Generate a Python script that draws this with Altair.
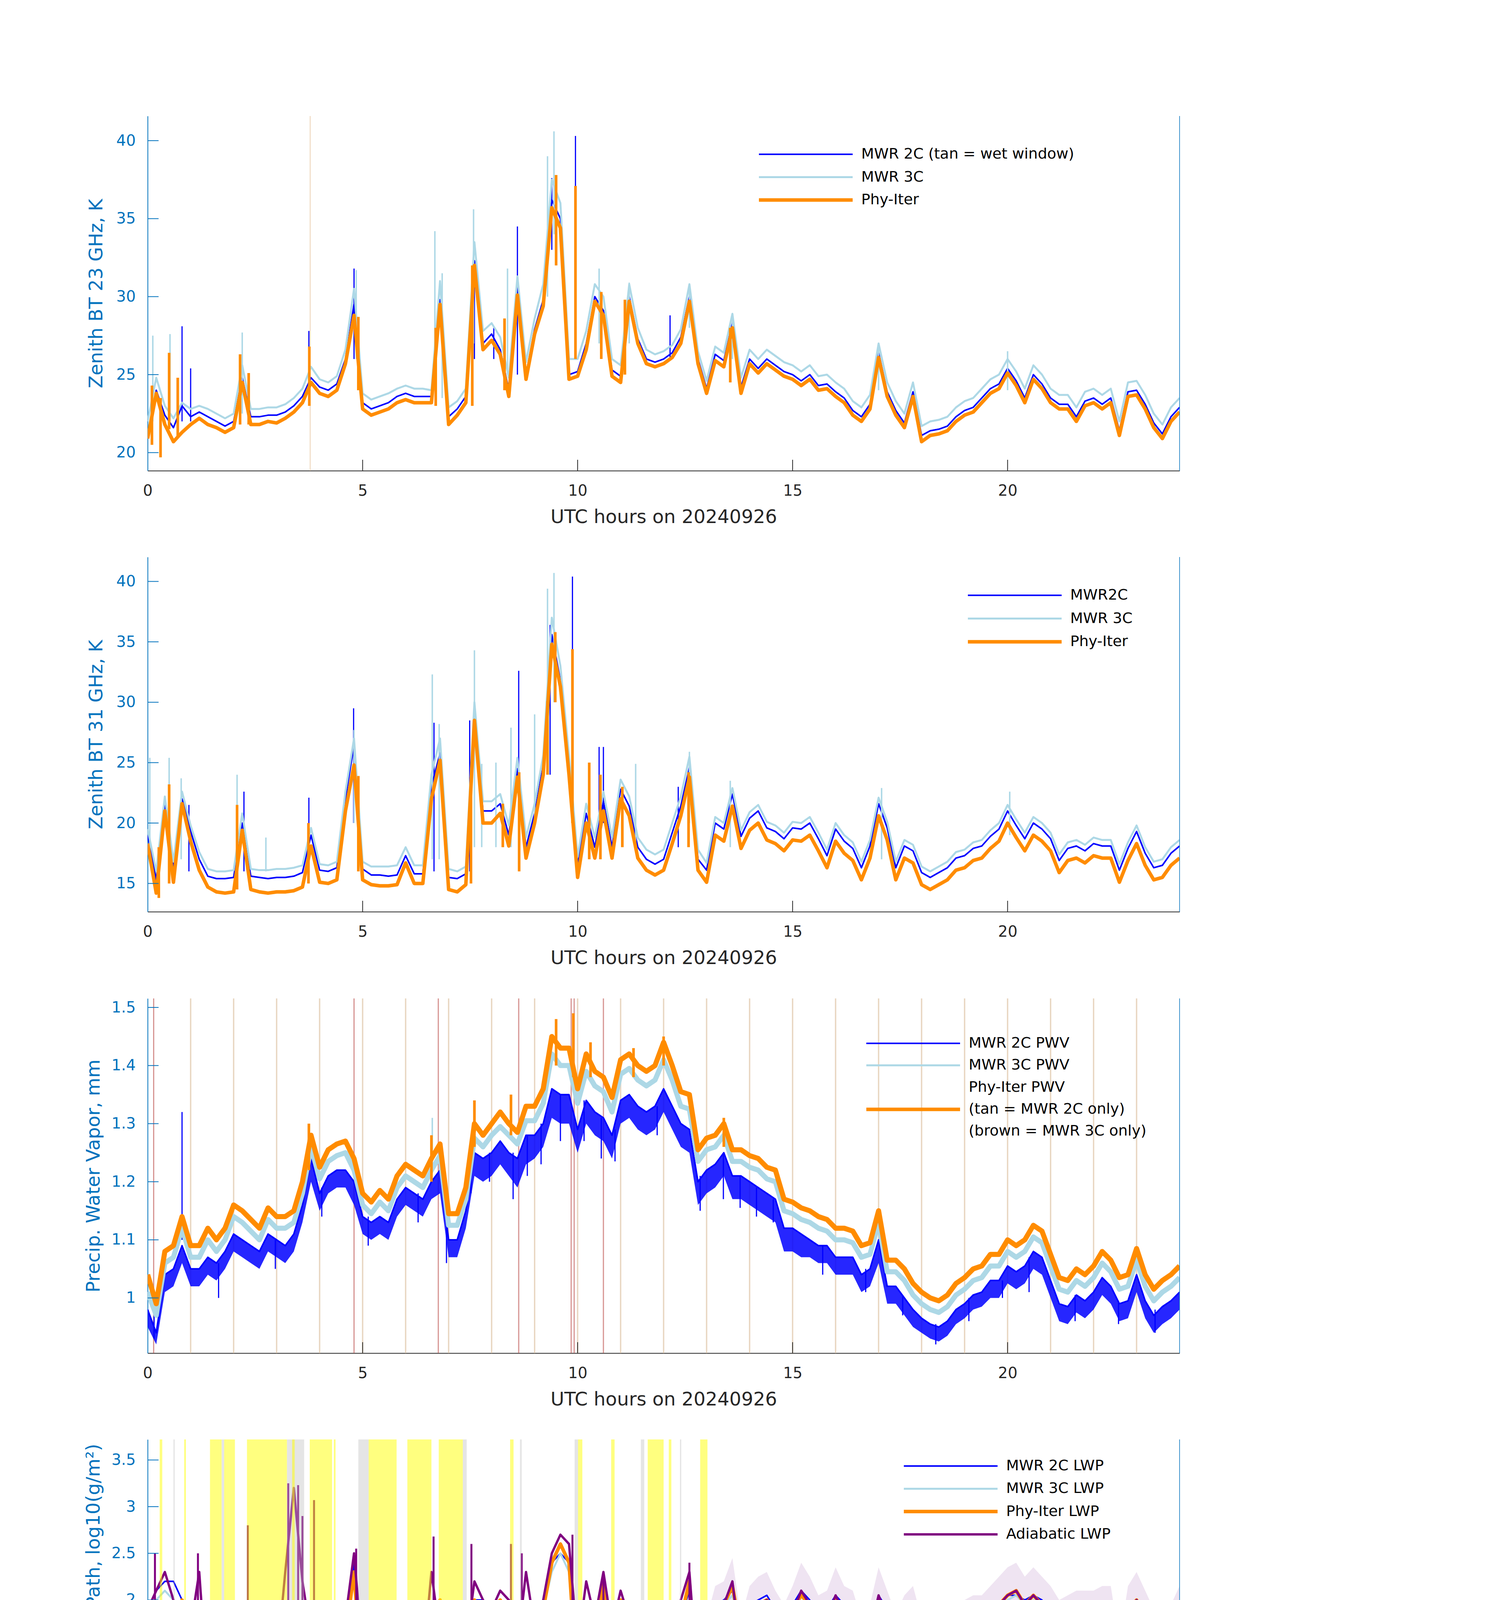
import altair as alt
import pandas as pd

W, H = 2642, 908
FONT = "DejaVu Sans"
AXIS_BLUE = "#0072BD"
DARK = "#262626"
BLUE, LBLUE, ORANGE, PURPLE = "#0000FF", "#ADD8E6", "#FF8C00", "#800080"
WB, WL, WO, WP = 4, 5, 9, 6

X_TICKS = [0, 5, 10, 15, 20]
X_TITLE = "UTC hours on 20240926"

HOURS = [
    0.0, 0.2, 0.4, 0.6, 0.8, 1.0, 1.2, 1.4, 1.6, 1.8,
    2.0, 2.2, 2.4, 2.6, 2.8, 3.0, 3.2, 3.4, 3.6, 3.8,
    4.0, 4.2, 4.4, 4.6, 4.8, 5.0, 5.2, 5.4, 5.6, 5.8,
    6.0, 6.2, 6.4, 6.6, 6.8, 7.0, 7.2, 7.4, 7.6, 7.8,
    8.0, 8.2, 8.4, 8.6, 8.8, 9.0, 9.2, 9.4, 9.6, 9.8,
    10.0, 10.2, 10.4, 10.6, 10.8, 11.0, 11.2, 11.4, 11.6, 11.8,
    12.0, 12.2, 12.4, 12.6, 12.8, 13.0, 13.2, 13.4, 13.6, 13.8,
    14.0, 14.2, 14.4, 14.6, 14.8, 15.0, 15.2, 15.4, 15.6, 15.8,
    16.0, 16.2, 16.4, 16.6, 16.8, 17.0, 17.2, 17.4, 17.6, 17.8,
    18.0, 18.2, 18.4, 18.6, 18.8, 19.0, 19.2, 19.4, 19.6, 19.8,
    20.0, 20.2, 20.4, 20.6, 20.8, 21.0, 21.2, 21.4, 21.6, 21.8,
    22.0, 22.2, 22.4, 22.6, 22.8, 23.0, 23.2, 23.4, 23.6, 23.8,
    24.0,
]
HOURS_LATE = HOURS[65:]

# ---------------- Panel 1: 23 GHz ----------------
P1_PHY = [
    20.9, 23.8, 21.8, 20.7, 21.3, 21.8, 22.2, 21.8, 21.6, 21.3,
    21.6, 24.5, 21.8, 21.8, 22.0, 21.9, 22.2, 22.6, 23.2, 24.5,
    23.8, 23.6, 24.0, 25.7, 28.8, 22.8, 22.4, 22.6, 22.8, 23.2,
    23.4, 23.2, 23.2, 23.2, 29.5, 21.8, 22.4, 23.2, 32.0, 26.6,
    27.2, 26.3, 23.6, 30.1, 24.7, 27.6, 29.4, 35.7, 34.4, 24.7,
    24.9, 26.6, 29.7, 28.8, 24.9, 24.5, 29.7, 27.0, 25.7, 25.5,
    25.7, 26.1, 27.0, 29.7, 25.7, 23.8, 25.9, 25.5, 28.0, 23.8,
    25.7, 25.1, 25.7, 25.3, 24.9, 24.7, 24.3, 24.7, 24.0, 24.1,
    23.6, 23.2, 22.4, 22.0, 22.8, 26.1, 23.6, 22.4, 21.6, 23.6,
    20.7, 21.1, 21.2, 21.4, 22.0, 22.4, 22.6, 23.2, 23.8, 24.1,
    25.1, 24.3, 23.2, 24.7, 24.1, 23.2, 22.8, 22.8, 22.0, 23.0,
    23.2, 22.8, 23.2, 21.1, 23.6, 23.7, 22.8, 21.6, 20.9, 22.0,
    22.6,
]
P1_MWR2C = [
    21.0, 24.0, 22.4, 21.6, 23.0, 22.3, 22.6, 22.3, 22.0, 21.7,
    22.0, 24.8, 22.3, 22.3, 22.4, 22.4, 22.6, 23.0, 23.6, 24.8,
    24.2, 24.0, 24.4, 26.0, 29.5, 23.2, 22.8, 23.0, 23.2, 23.6,
    23.8, 23.6, 23.6, 23.6, 29.8, 22.3, 22.8, 23.6, 32.3, 27.0,
    27.6, 26.6, 24.0, 30.5, 25.0, 27.9, 29.8, 36.2, 35.0, 25.0,
    25.2, 27.0, 30.0, 29.1, 25.3, 24.9, 30.0, 27.3, 26.0, 25.8,
    26.0, 26.4, 27.4, 30.0, 26.0, 24.1, 26.3, 25.9, 28.3, 24.2,
    26.0, 25.4, 26.0, 25.6, 25.2, 25.0, 24.6, 25.0, 24.3, 24.4,
    23.9, 23.5, 22.7, 22.3, 23.1, 26.4, 23.9, 22.7, 21.9, 23.9,
    21.1, 21.4, 21.5, 21.7, 22.3, 22.7, 22.9, 23.5, 24.1, 24.4,
    25.4, 24.6, 23.5, 25.0, 24.4, 23.5, 23.1, 23.1, 22.3, 23.3,
    23.5, 23.1, 23.5, 21.4, 23.9, 24.0, 23.1, 21.9, 21.2, 22.3,
    22.9,
]
P1_MWR3C = [
    22.0, 24.8, 23.0, 22.2, 23.2, 22.8, 23.0, 22.8, 22.5, 22.2,
    22.5, 25.6, 22.8, 22.8, 22.9, 22.9, 23.1, 23.5, 24.1, 25.5,
    24.7, 24.5, 24.9, 26.6, 30.5, 23.8, 23.4, 23.6, 23.8, 24.1,
    24.3, 24.1, 24.1, 24.0, 31.0, 22.9, 23.3, 24.1, 33.5, 27.8,
    28.3, 27.4, 24.8, 31.3, 25.8, 28.6, 30.8, 37.5, 36.0, 26.0,
    26.0, 27.8, 30.8, 30.0, 26.0, 25.6, 30.8, 28.0, 26.6, 26.3,
    26.5, 26.9, 27.9, 30.8, 26.5, 24.6, 26.8, 26.4, 28.9, 24.8,
    26.6, 26.0, 26.6, 26.2, 25.8, 25.6, 25.2, 25.6, 24.9, 25.0,
    24.5, 24.1, 23.3, 22.9, 23.7, 27.0, 24.5, 23.3, 22.5, 24.5,
    21.7, 22.0, 22.1, 22.3, 22.9, 23.3, 23.5, 24.1, 24.7, 25.0,
    26.0, 25.2, 24.1, 25.6, 25.0, 24.1, 23.7, 23.7, 22.9, 23.9,
    24.1, 23.7, 24.1, 22.0, 24.5, 24.6, 23.7, 22.5, 21.8, 22.9,
    23.5,
]
P1_PHY_SPK_T = [0.1, 0.3, 0.5, 0.7, 2.15, 2.35, 3.76, 4.9, 6.7, 7.55, 8.3, 9.5, 9.95, 10.55, 11.1, 13.55]
P1_PHY_SPK_LO = [20.5, 19.7, 21.5, 21.0, 21.8, 21.8, 23.0, 24.0, 23.0, 23.0, 24.0, 32.0, 26.0, 26.0, 25.0, 24.5]
P1_PHY_SPK_HI = [24.3, 23.5, 26.4, 24.8, 26.3, 25.1, 26.8, 28.7, 28.0, 32.0, 28.6, 37.8, 37.1, 30.3, 29.8, 28.0]
P1_2C_SPK_T = [0.8, 1.0, 3.75, 4.8, 7.6, 8.05, 8.6, 9.4, 9.95, 12.15]
P1_2C_SPK_LO = [22.0, 22.0, 24.0, 26.0, 26.0, 26.0, 25.0, 33.0, 27.0, 26.0]
P1_2C_SPK_HI = [28.1, 25.4, 27.8, 31.8, 31.6, 28.0, 34.5, 37.6, 40.3, 28.8]
P1_3C_SPK_T = [0.12, 0.52, 2.2, 4.85, 6.68, 6.85, 7.58, 8.37, 9.3, 9.45, 10.5, 11.2, 12.6, 13.6, 17.0, 20.0]
P1_3C_SPK_LO = [22.0, 22.0, 22.5, 26.0, 24.0, 23.5, 27.0, 25.0, 30.0, 34.0, 27.0, 27.0, 28.0, 26.0, 24.0, 24.0]
P1_3C_SPK_HI = [27.5, 27.6, 27.7, 31.7, 34.2, 31.5, 35.6, 31.8, 39.0, 40.6, 31.8, 30.9, 30.8, 28.9, 27.0, 26.5]
P1_WET_T = [3.78]

# ---------------- Panel 2: 31 GHz ----------------
P2_PHY = [
    18.3, 14.2, 21.0, 15.1, 21.6, 18.5, 16.1, 14.7, 14.3, 14.2,
    14.3, 19.4, 14.5, 14.3, 14.2, 14.3, 14.3, 14.4, 14.7, 18.1,
    15.1, 15.0, 15.3, 21.0, 24.8, 15.3, 14.9, 14.8, 14.8, 14.9,
    16.7, 15.0, 15.0, 22.0, 25.2, 14.5, 14.3, 14.9, 28.5, 20.0,
    20.0, 20.8, 18.1, 23.8, 17.1, 20.0, 24.0, 34.8, 31.3, 24.0,
    15.5, 20.0, 17.1, 21.0, 17.1, 22.0, 20.6, 17.1, 16.1, 15.7,
    16.1, 18.3, 20.6, 23.8, 16.1, 15.1, 19.0, 18.5, 21.4, 17.9,
    19.4, 20.0, 18.6, 18.3, 17.7, 18.6, 18.5, 19.0, 17.7, 16.3,
    18.5, 17.5, 16.9, 15.3, 17.1, 20.6, 18.6, 15.3, 17.1, 16.7,
    14.9, 14.5, 14.9, 15.3, 16.1, 16.3, 16.9, 17.1, 17.9, 18.5,
    20.0, 18.8, 17.7, 19.0, 18.5, 17.7, 15.9, 16.9, 17.1, 16.7,
    17.3, 17.1, 17.1, 15.1, 16.9, 18.3, 16.5, 15.3, 15.5, 16.5,
    17.1,
]
P2_MWR2C = [
    19.0, 15.3, 21.6, 16.2, 22.0, 19.3, 17.0, 15.6, 15.4, 15.4,
    15.5, 20.0, 15.6, 15.5, 15.4, 15.5, 15.5, 15.6, 15.9, 19.0,
    16.1, 16.0, 16.3, 22.0, 26.5, 16.2, 15.7, 15.7, 15.6, 15.7,
    17.3, 15.8, 15.8, 23.0, 25.8, 15.5, 15.4, 15.8, 28.5, 21.0,
    21.0, 21.6, 19.0, 24.5, 18.0, 20.8, 24.8, 35.6, 31.8, 24.8,
    16.5, 20.8, 18.0, 21.8, 18.0, 22.8, 21.4, 18.0, 17.0, 16.6,
    17.0, 19.2, 21.4, 24.6, 17.0, 16.1, 20.0, 19.5, 22.4, 18.9,
    20.4, 21.0, 19.6, 19.3, 18.7, 19.6, 19.5, 20.0, 18.7, 17.3,
    19.5, 18.5, 17.9, 16.3, 18.1, 21.6, 19.6, 16.3, 18.1, 17.7,
    15.9, 15.5, 15.9, 16.3, 17.1, 17.3, 17.9, 18.1, 18.9, 19.5,
    21.0, 19.8, 18.7, 20.0, 19.5, 18.7, 16.9, 17.9, 18.1, 17.7,
    18.3, 18.1, 18.1, 16.1, 17.9, 19.3, 17.5, 16.3, 16.5, 17.5,
    18.1,
]
P2_MWR3C = [
    19.5, 16.0, 22.2, 16.8, 22.6, 19.8, 17.6, 16.2, 16.0, 16.0,
    16.1, 20.8, 16.2, 16.1, 16.1, 16.2, 16.2, 16.3, 16.5, 19.6,
    16.6, 16.5, 16.8, 22.6, 27.0, 16.8, 16.4, 16.4, 16.4, 16.5,
    18.0, 16.5, 16.5, 24.0, 27.0, 16.2, 16.0, 16.4, 30.0, 21.8,
    21.8, 22.4, 19.8, 25.4, 18.8, 21.6, 25.6, 37.0, 33.0, 25.6,
    17.2, 21.6, 18.8, 22.6, 18.8, 23.6, 22.2, 18.8, 17.8, 17.4,
    17.8, 20.0, 22.2, 25.5, 17.8, 16.7, 20.5, 20.0, 22.9, 19.4,
    20.9, 21.5, 20.1, 19.8, 19.2, 20.1, 20.0, 20.5, 19.2, 17.8,
    20.0, 19.0, 18.4, 16.8, 18.6, 22.1, 20.1, 16.8, 18.6, 18.2,
    16.4, 16.0, 16.4, 16.8, 17.6, 17.8, 18.4, 18.6, 19.4, 20.0,
    21.5, 20.3, 19.2, 20.5, 20.0, 19.2, 17.4, 18.4, 18.6, 18.2,
    18.8, 18.6, 18.6, 16.6, 18.4, 19.8, 18.0, 16.8, 17.0, 18.0,
    18.6,
]
P2_PHY_SPK_T = [0.26, 0.5, 2.08, 3.74, 4.9, 7.52, 8.26, 8.64, 9.3, 9.48, 9.88, 10.27, 10.53, 11.04, 12.58]
P2_PHY_SPK_LO = [13.8, 15.0, 14.5, 15.0, 16.0, 15.0, 18.0, 16.0, 24.0, 30.0, 20.0, 17.0, 17.0, 18.0, 18.0]
P2_PHY_SPK_HI = [18.0, 23.2, 21.5, 20.0, 23.9, 23.8, 21.6, 24.2, 30.1, 35.8, 34.4, 25.0, 24.0, 23.0, 24.2]
P2_2C_SPK_T = [0.96, 2.24, 3.75, 4.79, 6.66, 7.49, 8.63, 9.36, 9.88, 10.5, 10.6, 12.34]
P2_2C_SPK_LO = [16.0, 16.0, 16.0, 20.0, 16.0, 16.0, 18.0, 24.0, 22.0, 20.0, 20.0, 18.0]
P2_2C_SPK_HI = [21.5, 22.6, 22.1, 29.5, 28.3, 28.5, 32.6, 36.4, 40.4, 26.3, 26.3, 23.0]
P2_3C_SPK_T = [0.05, 0.5, 0.78, 2.08, 2.75, 4.8, 6.62, 6.78, 7.6, 7.77, 8.1, 8.45, 9.0, 9.3, 9.45, 11.35, 12.6, 13.55, 17.07, 20.05]
P2_3C_SPK_LO = [17.0, 17.0, 17.0, 17.0, 16.0, 20.0, 17.0, 17.0, 18.0, 18.0, 18.0, 18.0, 20.0, 28.0, 30.0, 18.0, 20.0, 18.0, 17.0, 19.0]
P2_3C_SPK_HI = [25.4, 25.4, 23.7, 24.0, 18.8, 27.7, 32.3, 28.2, 34.3, 24.9, 25.0, 27.9, 29.0, 39.4, 40.7, 24.9, 25.9, 23.5, 22.9, 22.6]

# ---------------- Panel 3: PWV ----------------
P3_PHY = [
    1.04, 0.99, 1.08, 1.09, 1.14, 1.09, 1.09, 1.12, 1.10, 1.12,
    1.16, 1.15, 1.135, 1.12, 1.155, 1.14, 1.14, 1.15, 1.20, 1.28,
    1.225, 1.255, 1.265, 1.27, 1.24, 1.18, 1.165, 1.185, 1.17, 1.21,
    1.23, 1.22, 1.21, 1.24, 1.265, 1.145, 1.145, 1.19, 1.30, 1.28,
    1.30, 1.32, 1.30, 1.285, 1.33, 1.33, 1.36, 1.45, 1.43, 1.43,
    1.36, 1.42, 1.39, 1.38, 1.345, 1.41, 1.42, 1.40, 1.39, 1.40,
    1.44, 1.40, 1.355, 1.35, 1.255, 1.275, 1.28, 1.30, 1.255, 1.255,
    1.245, 1.24, 1.225, 1.22, 1.17, 1.165, 1.155, 1.15, 1.14, 1.135,
    1.12, 1.12, 1.115, 1.09, 1.095, 1.15, 1.065, 1.065, 1.05, 1.025,
    1.01, 1.00, 0.995, 1.005, 1.025, 1.035, 1.05, 1.055, 1.075, 1.075,
    1.10, 1.09, 1.10, 1.125, 1.115, 1.075, 1.035, 1.03, 1.05, 1.04,
    1.055, 1.08, 1.065, 1.035, 1.04, 1.085, 1.04, 1.015, 1.03, 1.04,
    1.055,
]
P3_MWR2C = [
    0.98, 0.94, 1.04, 1.05, 1.09, 1.05, 1.05, 1.07, 1.06, 1.08,
    1.11, 1.10, 1.09, 1.08, 1.11, 1.10, 1.09, 1.11, 1.16, 1.24,
    1.18, 1.21, 1.22, 1.22, 1.20, 1.14, 1.13, 1.14, 1.13, 1.17,
    1.19, 1.18, 1.17, 1.20, 1.22, 1.10, 1.10, 1.15, 1.25, 1.24,
    1.25, 1.27, 1.25, 1.24, 1.28, 1.28, 1.30, 1.36, 1.35, 1.35,
    1.29, 1.34, 1.32, 1.31, 1.28, 1.34, 1.35, 1.33, 1.32, 1.33,
    1.36, 1.33, 1.30, 1.29, 1.20, 1.22, 1.23, 1.25, 1.21, 1.21,
    1.20, 1.19, 1.18, 1.17, 1.12, 1.12, 1.11, 1.10, 1.09, 1.09,
    1.07, 1.07, 1.07, 1.04, 1.05, 1.10, 1.02, 1.02, 1.00, 0.98,
    0.965, 0.955, 0.95, 0.96, 0.98, 0.99, 1.005, 1.01, 1.03, 1.03,
    1.055, 1.045, 1.055, 1.08, 1.07, 1.03, 0.99, 0.985, 1.005, 0.995,
    1.01, 1.035, 1.02, 0.99, 0.995, 1.04, 0.995, 0.97, 0.985, 0.995,
    1.01,
]
# lower edge of the MWR 2C noise band
P3_MWR2C_LOW = [
    0.95, 0.92, 1.01, 1.02, 1.06, 1.02, 1.02, 1.04, 1.03, 1.05,
    1.08, 1.07, 1.06, 1.05, 1.08, 1.07, 1.06, 1.08, 1.13, 1.20,
    1.15, 1.18, 1.19, 1.19, 1.16, 1.11, 1.10, 1.11, 1.10, 1.14,
    1.16, 1.15, 1.14, 1.17, 1.18, 1.07, 1.07, 1.12, 1.21, 1.20,
    1.21, 1.23, 1.21, 1.19, 1.23, 1.24, 1.26, 1.31, 1.30, 1.30,
    1.25, 1.30, 1.28, 1.27, 1.24, 1.30, 1.31, 1.29, 1.28, 1.29,
    1.32, 1.29, 1.26, 1.25, 1.16, 1.18, 1.19, 1.21, 1.17, 1.17,
    1.16, 1.15, 1.14, 1.13, 1.08, 1.08, 1.07, 1.07, 1.06, 1.06,
    1.04, 1.04, 1.04, 1.01, 1.02, 1.06, 0.99, 0.99, 0.97, 0.95,
    0.94, 0.93, 0.925, 0.935, 0.955, 0.965, 0.98, 0.985, 1.0, 1.0,
    1.025, 1.015, 1.025, 1.05, 1.04, 1.0, 0.96, 0.955, 0.975, 0.965,
    0.98, 1.005, 0.99, 0.96, 0.965, 1.01, 0.965, 0.94, 0.955, 0.965,
    0.98,
]
P3_MWR3C = [
    1.01, 0.97, 1.06, 1.07, 1.12, 1.07, 1.07, 1.10, 1.08, 1.10,
    1.14, 1.13, 1.115, 1.10, 1.135, 1.12, 1.12, 1.13, 1.18, 1.26,
    1.205, 1.235, 1.245, 1.25, 1.22, 1.16, 1.145, 1.165, 1.15, 1.19,
    1.21, 1.20, 1.19, 1.22, 1.245, 1.125, 1.125, 1.17, 1.275, 1.26,
    1.28, 1.295, 1.28, 1.265, 1.305, 1.305, 1.335, 1.42, 1.40, 1.40,
    1.335, 1.39, 1.365, 1.355, 1.32, 1.385, 1.395, 1.375, 1.365, 1.375,
    1.41, 1.375, 1.33, 1.325, 1.235, 1.255, 1.26, 1.28, 1.235, 1.235,
    1.225, 1.22, 1.205, 1.20, 1.15, 1.145, 1.135, 1.13, 1.12, 1.115,
    1.10, 1.10, 1.095, 1.07, 1.075, 1.13, 1.045, 1.045, 1.03, 1.005,
    0.99, 0.98, 0.975, 0.985, 1.005, 1.015, 1.03, 1.035, 1.055, 1.055,
    1.08, 1.07, 1.08, 1.105, 1.095, 1.055, 1.015, 1.01, 1.03, 1.02,
    1.035, 1.06, 1.045, 1.015, 1.02, 1.065, 1.02, 0.995, 1.01, 1.02,
    1.035,
]
P3_2C_SPK_T = [0.15, 0.8, 1.65, 2.97, 4.05, 5.13, 6.29, 6.95, 7.52, 7.95, 8.5, 8.83, 9.15, 9.6,
               10.15, 10.55, 10.87, 11.85, 12.85, 13.39, 13.78, 14.16, 14.55, 15.7, 16.7, 17.56,
               18.33, 19.1, 19.88, 20.5, 21.57, 22.58, 23.43]
P3_2C_SPK_LO = [0.93, 1.10, 1.0, 1.05, 1.14, 1.09, 1.13, 1.06, 1.18, 1.20, 1.17, 1.21, 1.23, 1.27,
                1.27, 1.24, 1.235, 1.28, 1.15, 1.17, 1.155, 1.14, 1.13, 1.04, 1.01, 0.97,
                0.92, 0.96, 1.0, 1.01, 0.96, 0.955, 0.94]
P3_2C_SPK_HI = [0.98, 1.32, 1.06, 1.10, 1.19, 1.14, 1.18, 1.12, 1.24, 1.25, 1.25, 1.28, 1.30, 1.35,
                1.34, 1.31, 1.29, 1.33, 1.21, 1.25, 1.21, 1.19, 1.17, 1.09, 1.05, 1.005,
                0.955, 1.0, 1.03, 1.07, 1.005, 0.995, 0.98]
P3_3C_SPK_T = [6.62]
P3_3C_SPK_LO = [1.22]
P3_3C_SPK_HI = [1.31]
P3_PHY_SPK_T = [3.75, 6.6, 7.6, 8.45, 9.5, 9.9, 10.3, 11.3, 12.0, 13.4]
P3_PHY_SPK_LO = [1.22, 1.20, 1.26, 1.28, 1.40, 1.38, 1.38, 1.38, 1.40, 1.26]
P3_PHY_SPK_HI = [1.30, 1.28, 1.34, 1.35, 1.48, 1.49, 1.44, 1.43, 1.45, 1.31]
P3_TAN_T = [1, 2, 3, 4, 5, 6, 7, 8, 9, 10, 11, 12, 13, 14, 15, 16, 17, 18, 19, 20, 21, 22, 23]
P3_BROWN_T = [0.14, 4.8, 6.76, 8.63, 9.85, 9.92, 10.6]

# ---------------- Panel 4: LWP ----------------
P4_PHY = [
    1.8, 1.9, 1.4, 1.7, 2.0, 1.6, 1.2, 0.8, 0.3, 0.5,
    0.9, 1.6, 0.8, 0.9, 0.6, 0.9, 0.7, 0.6, 0.8, 0.9,
    0.9, 1.0, 0.7, 1.6, 2.3, 1.0, 0.5, 0.6, 0.9, 1.0,
    1.1, 0.9, 0.7, 1.6, 2.0, 1.2, 0.9, 1.3, 2.0, 1.8,
    1.9, 2.0, 1.8, 1.2, 1.6, 1.5, 1.9, 2.4, 2.6, 2.4,
    1.0, 1.6, 1.4, 2.2, 1.5, 2.0, 1.6, 1.3, 0.9, 0.7,
    1.0, 1.3, 1.8, 2.2, 0.7, 1.5, 1.9, 1.95, 2.15, 1.65,
    1.9, 1.95, 2.0, 1.85, 1.05, 1.9, 2.05, 1.95, 1.8, 1.85,
    2.0, 1.9, 1.8, 1.2, 1.6, 2.0, 1.85, 1.3, 1.7, 1.85,
    1.3, 1.0, 1.3, 1.0, 1.5, 1.7, 1.8, 1.75, 1.9, 1.95,
    2.05, 2.1, 1.95, 2.05, 1.95, 1.85, 1.75, 1.8, 1.85, 1.8,
    1.85, 1.9, 1.85, 1.6, 1.9, 2.0, 1.8, 1.5, 1.25, 1.55,
    1.85,
]
P4_ADI = [
    1.9, 2.1, 2.3, 2.0, 1.6, 1.7, 2.3, 1.0, 0.9, 1.0,
    1.6, 1.2, 1.0, 1.1, 1.2, 1.3, 2.3, 3.2, 2.2, 1.6,
    1.5, 1.8, 1.2, 1.8, 2.5, 1.4, 1.3, 1.1, 1.2, 1.2,
    1.3, 1.2, 1.3, 2.3, 1.6, 1.3, 1.2, 1.5, 2.2, 2.0,
    1.9, 2.1, 2.0, 1.5, 2.3, 1.7, 2.0, 2.5, 2.7, 2.6,
    1.5, 2.2, 1.8, 2.3, 1.7, 2.1, 1.8, 1.6, 1.2, 1.1,
    1.3, 1.6, 2.0, 2.3, 1.1, 1.6, 1.9, 1.95, 2.2, 1.45,
    1.85, 1.95, 2.0, 1.8, 1.6, 1.85, 2.1, 1.95, 1.75, 1.8,
    2.05, 1.85, 1.8, 1.45, 1.65, 2.05, 1.8, 1.5, 1.75, 1.85,
    1.4, 1.3, 1.45, 1.3, 1.55, 1.7, 1.75, 1.75, 1.85, 1.95,
    2.05, 2.1, 1.95, 2.05, 1.95, 1.85, 1.7, 1.75, 1.8, 1.8,
    1.8, 1.85, 1.85, 1.2, 1.85, 2.0, 1.8, 1.55, 1.3, 1.6,
    1.85,
]
P4_MWR2C = [
    1.9, 2.1, 2.2, 2.2, 2.0, 1.9, 1.6, 1.25, 1.3, 1.25,
    1.3, 1.5, 1.2, 1.25, 1.25, 1.2, 1.25, 1.15, 1.2, 1.3,
    1.2, 1.25, 1.2, 1.6, 2.4, 1.3, 1.2, 1.1, 1.2, 1.25,
    1.2, 1.25, 1.2, 1.3, 1.2, 1.15, 1.2, 1.25, 2.0, 2.0,
    1.9, 2.0, 1.9, 1.3, 1.7, 1.6, 1.9, 2.4, 2.5, 2.4,
    1.3, 1.8, 1.6, 2.1, 1.6, 2.0, 1.7, 1.5, 1.3, 1.3,
    1.35, 1.4, 1.8, 2.1, 1.3, 1.6, 1.95, 2.0, 2.1, 1.75,
    1.95, 2.0, 2.05, 1.9, 1.75, 1.95, 2.1, 2.0, 1.85, 1.9,
    2.05, 1.95, 1.85, 1.6, 1.75, 2.05, 1.9, 1.6, 1.8, 1.9,
    1.55, 1.45, 1.6, 1.5, 1.65, 1.75, 1.85, 1.8, 1.9, 1.95,
    2.05, 2.05, 2.0, 2.05, 2.0, 1.9, 1.8, 1.85, 1.85, 1.85,
    1.85, 1.9, 1.9, 1.75, 1.9, 2.0, 1.85, 1.65, 1.5, 1.7,
    1.85,
]
P4_MWR3C = [
    1.85, 2.0, 2.1, 2.0, 1.9, 1.8, 1.5, 1.1, 1.0, 0.95,
    1.1, 1.4, 1.0, 1.0, 1.0, 1.0, 1.05, 0.95, 1.0, 1.1,
    1.0, 1.05, 1.0, 1.5, 2.3, 1.2, 1.1, 1.0, 1.05, 1.1,
    1.1, 1.1, 1.05, 1.1, 1.05, 1.0, 1.05, 1.1, 1.9, 1.9,
    1.85, 2.0, 1.85, 1.2, 1.6, 1.5, 1.9, 2.3, 2.5, 2.3,
    1.2, 1.7, 1.5, 2.0, 1.5, 1.9, 1.6, 1.4, 1.1, 1.05,
    1.1, 1.3, 1.7, 2.0, 1.1, 1.5, 1.9, 1.95, 2.05, 1.7,
    1.9, 1.95, 2.0, 1.85, 1.7, 1.9, 2.05, 1.95, 1.8, 1.85,
    2.0, 1.9, 1.8, 1.55, 1.7, 2.0, 1.85, 1.55, 1.75, 1.85,
    1.5, 1.4, 1.55, 1.45, 1.6, 1.7, 1.8, 1.75, 1.85, 1.9,
    2.0, 2.05, 1.95, 2.0, 1.95, 1.85, 1.75, 1.8, 1.8, 1.8,
    1.8, 1.85, 1.85, 1.7, 1.85, 1.95, 1.8, 1.6, 1.45, 1.65,
    1.8,
]
# adiabatic uncertainty envelope, 13 h onward
P4_ADI_LO = [
    1.3, 1.65, 1.7, 1.9, 1.1,
    1.55, 1.65, 1.7, 1.5, 1.2, 1.55, 1.8, 1.65, 1.45, 1.5,
    1.75, 1.55, 1.5, 1.1, 1.3, 1.75, 1.5, 1.15, 1.4, 1.55,
    1.0, 0.9, 1.05, 0.9, 1.2, 1.4, 1.45, 1.45, 1.55, 1.65,
    1.75, 1.8, 1.65, 1.75, 1.65, 1.55, 1.4, 1.45, 1.5, 1.5,
    1.5, 1.55, 1.55, 0.9, 1.55, 1.7, 1.5, 1.2, 0.95, 1.25,
    1.55,
]
P4_ADI_HI = [
    1.8, 2.15, 2.2, 2.45, 1.8,
    2.15, 2.25, 2.3, 2.1, 1.95, 2.15, 2.4, 2.25, 2.05, 2.1,
    2.35, 2.15, 2.1, 1.8, 1.95, 2.35, 2.1, 1.85, 2.05, 2.15,
    1.8, 1.7, 1.85, 1.7, 1.9, 2.0, 2.05, 2.05, 2.15, 2.25,
    2.35, 2.4, 2.25, 2.35, 2.25, 2.15, 2.0, 2.05, 2.1, 2.1,
    2.1, 2.15, 2.15, 1.55, 2.15, 2.3, 2.1, 1.9, 1.7, 1.95,
    2.15,
]
P4_DROP_T = [0.29, 0.57, 1.39, 1.81, 1.96, 2.04, 2.32, 2.5, 3.32, 3.63, 4.32, 4.97, 5.13,
             5.51, 5.9, 6.83, 7.4, 8.49, 8.72, 8.94, 10.02, 10.58, 10.84, 11.61, 12.25, 13.0]
P4_DROP_HI = [1.8, 1.6, 0.9, 0.6, 0.9, 1.0, 1.0, 0.9, 0.7, 0.8, 0.8, 1.2, 0.8,
              0.7, 1.0, 1.9, 1.3, 1.8, 1.4, 1.5, 1.3, 2.0, 1.5, 0.9, 1.2, 1.4]
P4_ADI_SPK_T = [0.17, 1.17, 2.33, 3.27, 3.5, 3.6, 3.87, 4.85, 6.65, 7.53, 8.45, 8.7, 9.88, 10.6, 12.6]
P4_ADI_SPK_LO = [1.6, 1.3, 1.0, 1.3, 1.3, 1.3, 1.3, 1.5, 1.3, 1.5, 1.5, 1.4, 1.5, 1.4, 1.4]
P4_ADI_SPK_HI = [2.5, 2.5, 2.8, 3.25, 3.23, 2.9, 3.07, 2.55, 2.68, 2.6, 2.6, 2.5, 2.7, 2.3, 2.4]
P4_YELLOW_START = [0.28, 0.85, 1.45, 1.78, 2.31, 3.36, 3.77, 4.33, 5.14, 6.04, 6.77, 8.43, 10.01, 10.78, 11.63, 12.12, 12.85]
P4_YELLOW_END = [0.34, 0.89, 1.72, 2.03, 3.24, 3.42, 4.29, 4.37, 5.79, 6.6, 7.33, 8.51, 10.11, 10.86, 12.0, 12.18, 13.02]
P4_GRAY_START = [0.6, 1.72, 3.24, 4.9, 7.33, 8.66, 9.93, 11.47, 12.38]
P4_GRAY_END = [0.63, 1.78, 3.64, 5.14, 7.42, 8.7, 10.01, 11.55, 12.41]
P4_XO_T = [2.59, 5.27, 6.43, 6.40]
P4_XO_V = [0.35, 0.68, 0.68, 0.45]
P4_XB_T = [2.59, 5.27, 6.43, 6.89]
P4_XB_V = [1.06, 1.04, 1.09, 0.11]

# ---------------- Panel 5: DQ flag segments (start, end) per level ----------------
FLAG_0 = [(0.0, 0.3), (0.34, 1.45), (1.70, 1.82), (1.90, 2.32), (2.44, 2.44), (2.65, 2.78),
          (3.62, 3.80), (4.29, 5.10), (5.51, 5.58), (5.85, 6.05), (6.57, 6.81), (7.40, 8.44),
          (8.51, 8.67), (8.71, 9.93), (10.01, 10.01), (10.11, 10.78), (10.88, 11.59),
          (11.98, 12.78), (12.95, 24.0)]
FLAG_3 = [(0.26, 0.36), (2.31, 2.31), (2.79, 2.79), (3.24, 3.6), (3.79, 3.97), (5.49, 5.49),
          (8.91, 8.91), (9.98, 9.98), (10.54, 10.54), (12.18, 12.18), (12.93, 12.93)]
FLAG_4 = [(0.56, 0.64), (0.85, 0.9), (1.4, 1.51), (1.68, 1.83), (1.94, 2.06), (2.36, 2.47),
          (2.63, 2.63), (2.71, 2.71), (2.81, 2.81), (3.26, 3.26), (3.6, 3.6), (3.78, 3.78),
          (4.28, 4.28), (4.38, 4.38), (4.89, 5.29), (5.79, 5.96), (6.39, 6.44), (6.79, 6.79),
          (6.9, 6.9), (7.32, 7.42), (8.43, 8.43), (8.7, 8.7), (8.9, 8.9), (9.95, 9.95),
          (10.78, 10.78), (11.43, 11.62), (12.18, 12.18), (12.77, 12.77), (23.7, 23.7)]
FLAG_5 = [(0.31, 0.31), (0.87, 0.87), (1.44, 1.93), (2.32, 2.71), (2.75, 3.28), (3.36, 3.43),
          (3.83, 4.38), (5.17, 5.81), (6.04, 6.65), (6.81, 7.33), (8.43, 8.54), (8.68, 8.68),
          (9.99, 10.13), (10.8, 10.9), (11.61, 12.0), (12.16, 12.16), (12.72, 12.93)]
FLAG_6 = [(3.24, 3.24), (3.44, 3.54), (10.27, 10.27), (10.98, 10.98), (13.33, 13.33)]


# ---------------- helpers ----------------
X_AXIS = alt.Axis(values=X_TICKS, title=X_TITLE, format="d", labelFontSize=39, titleFontSize=48,
                  labelColor=DARK, titleColor=DARK, domainColor=DARK, domainWidth=2,
                  ticks=False, tickSize=0, labelPadding=32, titlePadding=24, grid=False,
                  labelFont=FONT, titleFont=FONT, titleFontWeight="normal", labelFlush=False)


def x_enc(field="t"):
    return alt.X(f"{field}:Q", scale=alt.Scale(domain=[0, 24], nice=False, zero=False), axis=X_AXIS)


def y_axis(ticks, title, tpad):
    return alt.Axis(values=ticks, title=title, format="~g", labelFontSize=39, titleFontSize=48,
                    labelColor=AXIS_BLUE, titleColor=AXIS_BLUE, domainColor=AXIS_BLUE, domainWidth=2,
                    ticks=False, tickSize=0, labelPadding=31, titlePadding=tpad, grid=False,
                    labelFont=FONT, titleFont=FONT, titleFontWeight="normal", labelFlush=False)


class YSpec:
    def __init__(self, dom, ticks, title, tpad):
        self.scale = alt.Scale(domain=dom, nice=False, zero=False)
        self.axis = y_axis(ticks, title, tpad)
        self.ticks = ticks

    def enc(self, field):
        return alt.Y(f"{field}:Q", scale=self.scale, axis=self.axis)


def series_frame(name, values, times=HOURS):
    assert len(values) == len(times), (name, len(values))
    return pd.DataFrame({"t": times, "v": values, "series": [name] * len(times)})


def spike_layer(t, lo, hi, color, width, ys):
    assert len(t) == len(lo) == len(hi)
    df = pd.DataFrame({"t": t, "lo": lo, "hi": hi})
    return alt.Chart(df).mark_rule(clip=True, color=color, strokeWidth=width).encode(
        x=x_enc(), y=ys.enc("lo"), y2="hi:Q")


def band_layer(times, lo, hi, color, opacity, ys):
    assert len(times) == len(lo) == len(hi)
    df = pd.DataFrame({"t": times, "lo": lo, "hi": hi})
    return alt.Chart(df).mark_area(clip=True, color=color, opacity=opacity).encode(
        x=x_enc(), y=ys.enc("lo"), y2="hi:Q")


def vline_layer(t, color, width, opacity):
    df = pd.DataFrame({"t": t})
    return alt.Chart(df).mark_rule(color=color, strokeWidth=width, opacity=opacity).encode(
        x=x_enc(), y=alt.value(0), y2=alt.value(H))


def frame_layers(ys):
    xt = pd.DataFrame({"t": X_TICKS[1:]})
    yt = pd.DataFrame({"v": ys.ticks})
    return [
        alt.Chart(xt).mark_rule(color=DARK, strokeWidth=2).encode(
            x=x_enc(), y=alt.value(H), y2=alt.value(H - 28)),
        alt.Chart(yt).mark_rule(color=AXIS_BLUE, strokeWidth=2).encode(
            y=ys.enc("v"), x=alt.value(0), x2=alt.value(28)),
        alt.Chart(pd.DataFrame({"k": [0]})).mark_rule(color=AXIS_BLUE, strokeWidth=1.5).encode(
            x=alt.value(W), y=alt.value(0), y2=alt.value(H)),
    ]


def make_legend(lx, ly, row_pad):
    return alt.Legend(orient="none", legendX=lx, legendY=ly, title=None, labelFontSize=38,
                      labelFont=FONT, labelColor="#000000", symbolType="M-20,0H20", symbolSize=144,
                      symbolOffset=101, labelOffset=123, rowPadding=row_pad, padding=0,
                      labelLimit=0, direction="vertical")


def line_panel(labels, colors, widths, draw, ys, legend_xy, row_pad, before=None, after=None, halo=None):
    # halo: optional {series name: stroke width} drawing a wider copy of the same series (noise envelope)
    halo = halo or {}
    leg = make_legend(legend_xy[0], legend_xy[1], row_pad)
    cscale = alt.Scale(domain=labels, range=colors)
    wscale = alt.Scale(type="ordinal", domain=labels, range=widths)
    layers = list(before(ys)) if before else []
    for name, values, spk, col, wid in draw:
        df = series_frame(name, values)
        if name in halo:
            layers.append(alt.Chart(df).mark_line(clip=True, strokeJoin="round", color=col,
                                                  strokeWidth=halo[name]).encode(x=x_enc(), y=ys.enc("v")))
        layers.append(alt.Chart(df).mark_line(clip=True, strokeJoin="round").encode(
            x=x_enc(), y=ys.enc("v"),
            color=alt.Color("series:N", scale=cscale, legend=leg),
            strokeWidth=alt.StrokeWidth("series:N", scale=wscale, legend=leg),
        ))
        if spk is not None:
            layers.append(spike_layer(spk[0], spk[1], spk[2], col, max(wid * 0.75, 2.5), ys))
    if after:
        layers += list(after(ys))
    layers += frame_layers(ys)
    return alt.layer(*layers).properties(width=W, height=H)


# ---------------- Panel 1 ----------------
p1_labels = ["MWR 2C (tan = wet window)", "MWR 3C", "Phy-Iter"]
p1 = line_panel(
    p1_labels, [BLUE, LBLUE, ORANGE], [WB, WL, WO],
    [
        (p1_labels[0], P1_MWR2C, (P1_2C_SPK_T, P1_2C_SPK_LO, P1_2C_SPK_HI), BLUE, WB),
        (p1_labels[1], P1_MWR3C, (P1_3C_SPK_T, P1_3C_SPK_LO, P1_3C_SPK_HI), LBLUE, WL),
        (p1_labels[2], P1_PHY, (P1_PHY_SPK_T, P1_PHY_SPK_LO, P1_PHY_SPK_HI), ORANGE, WO),
    ],
    YSpec([18.84, 41.58], [20, 25, 30, 35, 40], "Zenith BT 23 GHz, K", 26), (1565, 79), 20.5,
    before=lambda ys: [vline_layer(P1_WET_T, "#EBCFB0", 2.5, 0.8)],
)

# ---------------- Panel 2 ----------------
p2_labels = ["MWR2C", "MWR 3C", "Phy-Iter"]
p2 = line_panel(
    p2_labels, [BLUE, LBLUE, ORANGE], [WB, WL, WO],
    [
        (p2_labels[0], P2_MWR2C, (P2_2C_SPK_T, P2_2C_SPK_LO, P2_2C_SPK_HI), BLUE, WB),
        (p2_labels[1], P2_MWR3C, (P2_3C_SPK_T, P2_3C_SPK_LO, P2_3C_SPK_HI), LBLUE, WL),
        (p2_labels[2], P2_PHY, (P2_PHY_SPK_T, P2_PHY_SPK_LO, P2_PHY_SPK_HI), ORANGE, WO),
    ],
    YSpec([12.66, 42.02], [15, 20, 25, 30, 35, 40], "Zenith BT 31 GHz, K", 26), (2100, 79), 21.5,
)

# ---------------- Panel 3 ----------------
p3_labels = ["MWR 2C PWV", "MWR 3C PWV", "Phy-Iter PWV", "(tan = MWR 2C only)", "(brown = MWR 3C only)"]
p3 = line_panel(
    p3_labels, [BLUE, LBLUE, "transparent", ORANGE, "transparent"], [WB, WL, 1, WO, 1],
    [
        (p3_labels[0], P3_MWR2C, (P3_2C_SPK_T, P3_2C_SPK_LO, P3_2C_SPK_HI), BLUE, WB),
        (p3_labels[1], P3_MWR3C, (P3_3C_SPK_T, P3_3C_SPK_LO, P3_3C_SPK_HI), LBLUE, WL),
        (p3_labels[3], P3_PHY, (P3_PHY_SPK_T, P3_PHY_SPK_LO, P3_PHY_SPK_HI), ORANGE, WO),
    ],
    YSpec([0.905, 1.5155], [1.0, 1.1, 1.2, 1.3, 1.4, 1.5], "Precip. Water Vapor, mm", 20), (1840, 96), 18.3,
    before=lambda ys: [vline_layer(P3_TAN_T, "#E6D2BA", 3.5, 0.9),
                       vline_layer(P3_BROWN_T, "#C8706E", 3, 0.75),
                       band_layer(HOURS, P3_MWR2C_LOW, P3_MWR2C, BLUE, 0.85, ys)],
    halo={p3_labels[1]: 13, p3_labels[3]: 13},
)


# ---------------- Panel 4 ----------------
def p4_before(ys):
    return [band_layer(HOURS_LATE, P4_ADI_LO, P4_ADI_HI, "#E4D2EA", 0.6, ys)]


def p4_after(ys):
    drops = pd.DataFrame({"t": P4_DROP_T, "lo": [-0.3] * len(P4_DROP_T), "hi": P4_DROP_HI})
    yb = pd.DataFrame({"s": P4_YELLOW_START, "e": P4_YELLOW_END})
    gb = pd.DataFrame({"s": P4_GRAY_START, "e": P4_GRAY_END})
    xo = pd.DataFrame({"t": P4_XO_T, "v": P4_XO_V})
    xb = pd.DataFrame({"t": P4_XB_T, "v": P4_XB_V})
    return [
        alt.Chart(drops).mark_rule(clip=True, color=ORANGE, strokeWidth=7).encode(
            x=x_enc(), y=ys.enc("lo"), y2="hi:Q"),
        spike_layer(P4_ADI_SPK_T, P4_ADI_SPK_LO, P4_ADI_SPK_HI, PURPLE, 5, ys),
        alt.Chart(gb).mark_rect(color="#BFBFBF", opacity=0.4).encode(
            x=x_enc("s"), x2="e:Q", y=alt.value(0), y2=alt.value(H)),
        alt.Chart(yb).mark_rect(color="#FFFF00", opacity=0.5).encode(
            x=x_enc("s"), x2="e:Q", y=alt.value(0), y2=alt.value(H)),
        alt.Chart(xo).mark_point(shape="cross", angle=45, filled=True, size=420, color="#F5B800", opacity=1).encode(
            x=x_enc(), y=ys.enc("v")),
        alt.Chart(xb).mark_point(shape="cross", angle=45, filled=True, size=420, color="#B5705A", opacity=1).encode(
            x=x_enc(), y=ys.enc("v")),
    ]


p4_labels = ["MWR 2C LWP", "MWR 3C LWP", "Phy-Iter LWP", "Adiabatic LWP"]
p4 = line_panel(
    p4_labels, [BLUE, LBLUE, ORANGE, PURPLE], [WB, WL, WO, WP],
    [
        (p4_labels[0], P4_MWR2C, None, BLUE, WB),
        (p4_labels[1], P4_MWR3C, None, LBLUE, WL),
        (p4_labels[2], P4_PHY, None, ORANGE, WO),
        (p4_labels[3], P4_ADI, None, PURPLE, WP),
    ],
    YSpec([-0.08, 3.72], [0, 0.5, 1, 1.5, 2, 2.5, 3, 3.5], "log10 Liquid Water Path, log10(g/m²)", 20),
    (1936, 49), 20.3, before=p4_before, after=p4_after,
)

# ---------------- Panel 5 ----------------
flag_rows = []
for lvl, segs in [(0, FLAG_0), (3, FLAG_3), (4, FLAG_4), (5, FLAG_5), (6, FLAG_6)]:
    for s, e in segs:
        flag_rows.append({"s": s, "e": e, "lvl": lvl})
flags = pd.DataFrame(flag_rows)
y5 = YSpec([-0.51, 11.52], [0, 2, 4, 6, 8, 10], "MWR Phy Iter DQ Flag", 26)
p5 = alt.layer(
    alt.Chart(flags).mark_rule(color=ORANGE, strokeWidth=9, strokeCap="round").encode(
        x=x_enc("s"), x2="e:Q", y=y5.enc("lvl")),
    *frame_layers(y5),
).properties(width=W, height=H)

chart = (
    alt.vconcat(p1, p2, p3, p4, p5, spacing=77)
    .resolve_scale(color="independent", strokeWidth="independent", x="independent", y="independent")
    .resolve_legend(color="independent", strokeWidth="independent")
    .properties(padding={"left": 158, "top": 287, "right": 20, "bottom": 20})
    .configure(font=FONT)
    .configure_view(stroke=None)
)

chart.save("out.html", embed_options={"renderer": "svg", "actions": False})
